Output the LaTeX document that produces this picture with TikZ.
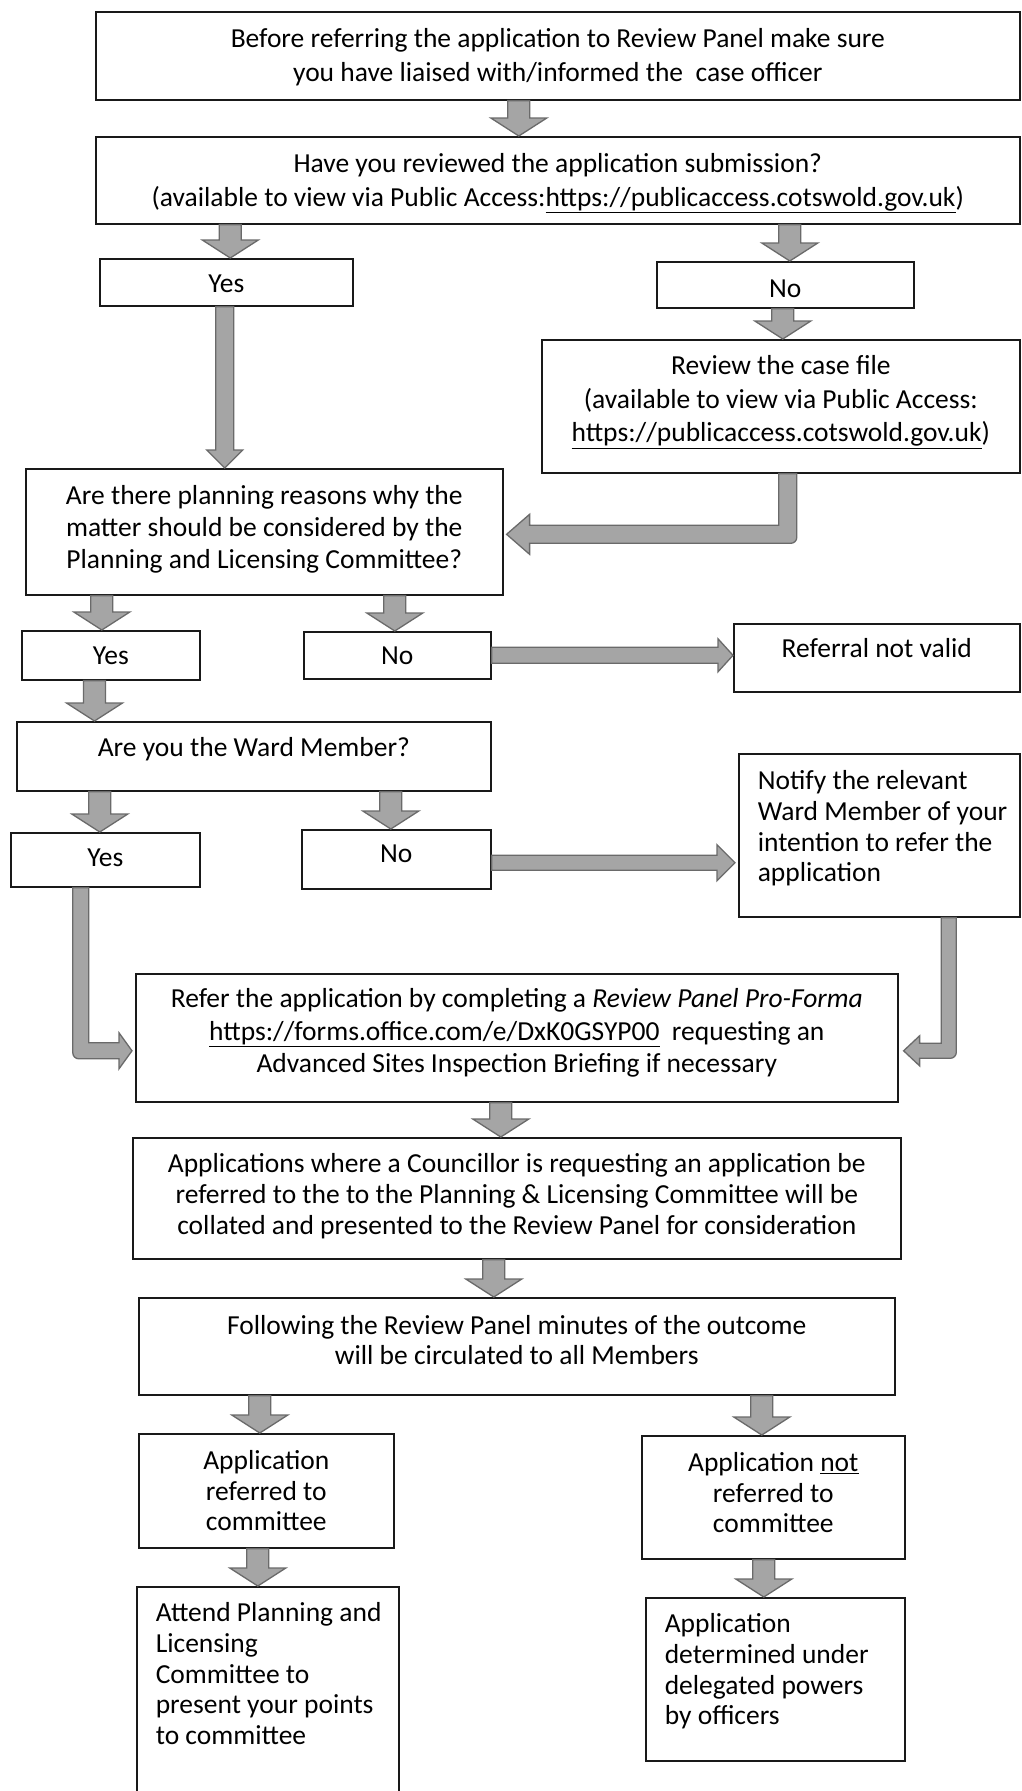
\documentclass[tikz,border=0pt]{standalone}
\usepackage{fontspec}
\setmainfont{Carlito}
\usetikzlibrary{calc}
\definecolor{arrfill}{HTML}{A5A5A5}
\definecolor{arrline}{HTML}{6A6A6A}
\newcommand\bxc[5][31]{\parbox[c][#3pt][t]{#2pt}{\fontsize{27.5}{#1}\selectfont\vspace*{\dimexpr#4pt-3pt\relax}\centering\rule{0pt}{21pt}#5}}
\newcommand\bxl[5][31]{\parbox[c][#3pt][t]{#2pt}{\fontsize{27.5}{#1}\selectfont\vspace*{\dimexpr#4pt-3pt\relax}\raggedright\leftskip=19pt\relax\rule{0pt}{21pt}#5}}
% down block arrow: start, tip, shaft half, head half, head length
\newcommand\dnarrow[5]{\path[barrow] let \p1=#1, \p2=#2 in (\x2-#3,\y1) -- (\x2+#3,\y1) -- (\x2+#3,\y2+#5) -- (\x2+#4,\y2+#5) -- (\x2,\y2) -- (\x2-#4,\y2+#5) -- (\x2-#3,\y2+#5) -- cycle;}
% right block arrow: start, tip (y from start)
\newcommand\rtarrow[5]{\path[barrow] let \p1=#1, \p2=#2 in (\x1,\y1+#3) -- (\x2-#5,\y1+#3) -- (\x2-#5,\y1+#4) -- (\x2,\y1) -- (\x2-#5,\y1-#4) -- (\x2-#5,\y1-#3) -- (\x1,\y1-#3) -- cycle;}
% elbow down then left (rounded outer corner)
\newcommand\elbowleft[5]{\path[barrow] let \p1=#1, \p2=#2 in (\x1-#3,\y1) -- (\x1+#3,\y1) -- (\x1+#3,\y2-#3+6pt) arc[start angle=0, end angle=-90, radius=6pt] -- (\x2+#5,\y2-#3) -- (\x2+#5,\y2-#4) -- (\x2,\y2) -- (\x2+#5,\y2+#4) -- (\x2+#5,\y2+#3) -- (\x1-#3,\y2+#3) -- cycle;}
% elbow down then right (rounded outer corner)
\newcommand\elbowright[5]{\path[barrow] let \p1=#1, \p2=#2 in (\x1-#3,\y1) -- (\x1+#3,\y1) -- (\x1+#3,\y2+#3) -- (\x2-#5,\y2+#3) -- (\x2-#5,\y2+#4) -- (\x2,\y2) -- (\x2-#5,\y2-#4) -- (\x2-#5,\y2-#3) -- (\x1-#3+6pt,\y2-#3) arc[start angle=-90, end angle=-180, radius=6pt] -- cycle;}
\tikzset{
  box/.style={draw=black!90, line width=1.6pt, inner sep=0pt, anchor=north west},
  barrow/.style={fill=arrfill, draw=arrline, line width=1.3pt, line join=miter},
}
\begin{document}
\begin{tikzpicture}[x=1pt,y=-1pt]
\useasboundingbox[fill=white] (0,0) rectangle (1022,1791);

\node[box] (b1) at (95,11) {\bxc[33.5]{924}{88}{18}{Before referring the application to Review Panel make sure\\you have liaised with/informed the\ \ case officer}};
\node[box] (b2) at (95,136) {\bxc[33.5]{924}{87}{18}{Have you reviewed the application submission?\\(available to view via Public Access:\underline{https://publicaccess.cotswold.gov.uk})}};
\node[box] (yes1) at (99,258) {\bxc{253}{47}{16}{Yes}};
\node[box] (no1) at (656,261) {\bxc{257}{46}{18}{No}};
\node[box] (rev) at (541,339) {\bxc[33.5]{478}{133}{17}{Review the case file\\(available to view via Public Access:\\\underline{https://publicaccess.cotswold.gov.uk})}};
\node[box] (plan) at (25,468) {\bxc[31.7]{477}{126}{18}{Are there planning reasons why the\\matter should be considered by the\\Planning and Licensing Committee?}};
\node[box] (yes2) at (21,630) {\bxc{178}{49}{16}{Yes}};
\node[box] (no2) at (303,631) {\bxc{187}{47}{15}{No}};
\node[box] (ref) at (733,623) {\bxc{286}{68}{16}{Referral not valid}};
\node[box] (ward) at (16,721) {\bxc{474}{69}{17}{Are you the Ward Member?}};
\node[box] (yes3) at (10,832) {\bxc{189}{54}{16}{Yes}};
\node[box] (no3) at (301,829) {\bxc{189}{59}{15}{No}};
\node[box] (notify) at (738,753) {\bxl[30.7]{281}{163}{18}{Notify the relevant\\Ward Member of your\\intention to refer the\\application}};
\node[box] (refer) at (135,973) {\bxc[32.5]{762}{128}{16}{Refer the application by completing a \textit{Review Panel Pro-Forma}\\\underline{https://forms.office.com/e/DxK0GSYP00}\ \ requesting an\\Advanced Sites Inspection Briefing if necessary}};
\node[box] (coun) at (132,1137) {\bxc{768}{121}{17}{Applications where a Councillor is requesting an application be\\referred to the to the Planning \& Licensing Committee will be\\collated and presented to the Review Panel for consideration}};
\node[box] (foll) at (138,1297) {\bxc[30]{756}{97}{19}{Following the Review Panel minutes of the outcome\\will be circulated to all Members}};
\node[box] (referred) at (138,1433) {\bxc[30.5]{255}{114}{18}{Application\\referred to\\committee}};
\node[box] (notref) at (641,1435) {\bxc[30.5]{263}{123}{18}{Application \underline{not}\\referred to\\committee}};
\node[box] (attend) at (136,1586) {\bxl[30.7]{262}{214}{17}{Attend Planning and\\Licensing\\Committee to\\present your points\\to committee}};
\node[box] (determined) at (645,1597) {\bxl[30.7]{259}{163}{17}{Application\\determined under\\delegated powers\\by officers}};

% straight down arrows
\dnarrow{(b1.south)}{([xshift=-39pt]b2.north)}{11pt}{28pt}{18pt}
\dnarrow{(b2.south)}{([xshift=4pt]yes1.north)}{11pt}{28pt}{18pt}
\dnarrow{(b2.south)}{([xshift=4.5pt]no1.north)}{11pt}{28pt}{18pt}
\dnarrow{(yes1.south)}{([xshift=-39.5pt]plan.north)}{9pt}{18pt}{18pt}
\dnarrow{(no1.south)}{([xshift=2pt]rev.north)}{11pt}{28pt}{18pt}
\dnarrow{(plan.south)}{([xshift=-9pt]yes2.north)}{11pt}{28pt}{18pt}
\dnarrow{(plan.south)}{([xshift=-2.5pt]no2.north)}{11pt}{28pt}{18pt}
\dnarrow{(yes2.south)}{([xshift=78.5pt]ward.north west)}{11pt}{28pt}{18pt}
\dnarrow{(ward.south)}{([xshift=-5.5pt]yes3.north)}{11pt}{28pt}{18pt}
\dnarrow{(ward.south)}{([xshift=-5.5pt]no3.north)}{11pt}{28pt}{18pt}
\dnarrow{(refer.south)}{([xshift=-16pt]coun.north)}{11pt}{28pt}{18pt}
\dnarrow{(coun.south)}{([xshift=-23pt]foll.north)}{11pt}{28pt}{18pt}
\dnarrow{(foll.south)}{([xshift=-6.5pt]referred.north)}{11pt}{28pt}{18pt}
\dnarrow{(foll.south)}{([xshift=-11.5pt]notref.north)}{11pt}{28pt}{18pt}
\dnarrow{(referred.south)}{([xshift=-10pt]attend.north)}{11pt}{28pt}{18pt}
\dnarrow{(notref.south)}{([xshift=-11.5pt]determined.north)}{11pt}{28pt}{18pt}

% horizontal arrows
\rtarrow{(no2.east)}{(ref.west)}{8pt}{16.5pt}{15pt}
\rtarrow{([yshift=-3.5pt]no3.east)}{([xshift=-3pt]notify.west)}{7.5pt}{18pt}{18pt}

% elbow arrows
\elbowleft{([xshift=7pt]rev.south)}{([xshift=3pt,yshift=-2.5pt]plan.east)}{9pt}{20pt}{23pt}
\elbowright{([xshift=-24.5pt]yes3.south)}{([xshift=-3pt,yshift=-13pt]refer.west)}{8pt}{18pt}{13pt}
\elbowleft{([xshift=69.5pt]notify.south)}{([xshift=5pt,yshift=-13pt]refer.east)}{7.5pt}{15pt}{16pt}
\end{tikzpicture}
\end{document}
